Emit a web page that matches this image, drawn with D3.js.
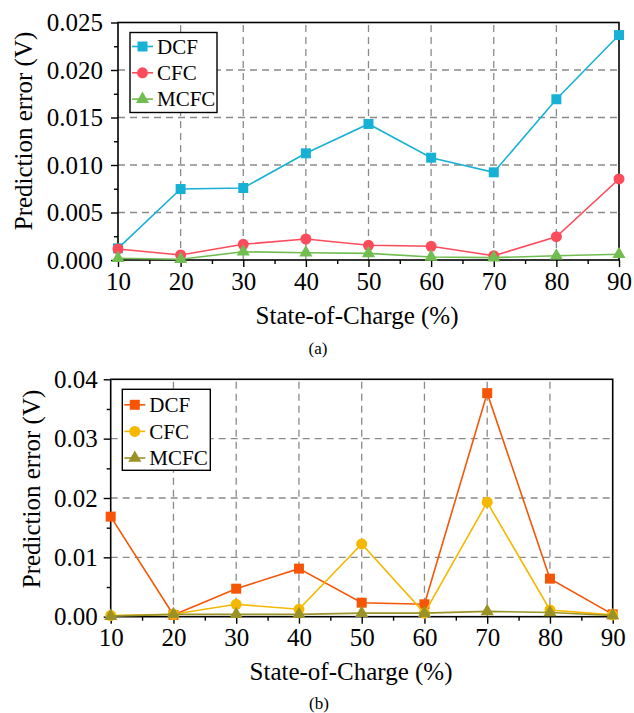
<!DOCTYPE html>
<html>
<head>
<meta charset="utf-8">
<script src="https://cdn.jsdelivr.net/npm/d3@7"></script>
<style>
  html, body { margin: 0; padding: 0; background: #ffffff; }
  svg { display: block; }
  svg text { font-family: "Liberation Serif", "DejaVu Serif", serif !important; }
</style>
</head>
<body>
<svg id="chart" width="634" height="713"></svg>
<script>
// State-of-Charge points (%)
const soc = [10, 20, 30, 40, 50, 60, 70, 80, 90];
const seriesNames = ["DCF", "CFC", "MCFC"];

// Panel (a) prediction errors (V)
const dcfA  = [0.00123, 0.00747, 0.00758, 0.01123, 0.01432, 0.01077, 0.00923, 0.01692, 0.02368];
const cfcA  = [0.00116, 0.00053, 0.00165, 0.00221, 0.00155, 0.00144, 0.00045, 0.00245, 0.00853];
const mcfcA = [0.00018, 0.00008, 0.00087, 0.00077, 0.00070, 0.00032, 0.00025, 0.00045, 0.00060];

// Panel (b) prediction errors (V)
const dcfB  = [0.01686, 0.00030, 0.00472, 0.00810, 0.00236, 0.00209, 0.03767, 0.00641, 0.00040];
const cfcB  = [0.00020, 0.00040, 0.00209, 0.00125, 0.01226, 0.00060, 0.01929, 0.00113, 0.00030];
const mcfcB = [0.00010, 0.00040, 0.00040, 0.00040, 0.00060, 0.00060, 0.00090, 0.00070, 0.00020];

// Tick values
const xTicks = [10, 20, 30, 40, 50, 60, 70, 80, 90];
const yTicksA = [0, 0.005, 0.010, 0.015, 0.020, 0.025];
const yTicksB = [0, 0.01, 0.02, 0.03, 0.04];

const FONT = "Liberation Serif, DejaVu Serif, serif";
const svg = d3.select("#chart");

function drawPanel(cfg) {
  const g = svg.append("g");
  const x = d3.scaleLinear().domain([10, 90]).range([cfg.left, cfg.right]);
  const y = d3.scaleLinear().domain([0, cfg.yMax]).range([cfg.bottom, cfg.top]);

  // dashed grid
  const grid = g.append("g")
    .attr("stroke", "#8a8a8a").attr("stroke-width", 1.3)
    .attr("stroke-dasharray", "7,5").attr("fill", "none");
  xTicks.slice(1, -1).forEach(v => {
    grid.append("line").attr("x1", x(v)).attr("x2", x(v))
      .attr("y1", cfg.bottom).attr("y2", cfg.top);
  });
  cfg.yTicks.slice(1, -1).forEach(v => {
    grid.append("line").attr("x1", cfg.left).attr("x2", cfg.right)
      .attr("y1", y(v)).attr("y2", y(v));
  });

  // minor ticks
  const xMinor = d3.range(15, 90, 10);
  const yStep = cfg.yTicks[1] - cfg.yTicks[0];
  const yMinor = d3.range(yStep / 2, cfg.yMax, yStep);

  const xAxis = d3.axisBottom(x).tickValues(xTicks).tickFormat(d3.format("d"))
    .tickSize(7).tickPadding(5);
  const xAxisMinor = d3.axisBottom(x).tickValues(xMinor).tickFormat("").tickSize(4);
  const yAxis = d3.axisLeft(y).tickValues(cfg.yTicks).tickFormat(d3.format(cfg.yFmt))
    .tickSize(7).tickPadding(cfg.yPad);
  const yAxisMinor = d3.axisLeft(y).tickValues(yMinor).tickFormat("").tickSize(4);

  [
    g.append("g").attr("transform", `translate(0,${cfg.bottom})`).call(xAxis),
    g.append("g").attr("transform", `translate(0,${cfg.bottom})`).call(xAxisMinor),
    g.append("g").attr("transform", `translate(${cfg.left},0)`).call(yAxis),
    g.append("g").attr("transform", `translate(${cfg.left},0)`).call(yAxisMinor)
  ].forEach(a => {
    a.attr("font-family", FONT).attr("font-size", 25);
    a.select(".domain").remove();
    a.selectAll(".tick line").attr("stroke", "#000").attr("stroke-width", 1.4);
    a.selectAll(".tick text").attr("fill", "#000").attr("font-family", FONT);
  });

  // frame
  g.append("rect").attr("x", cfg.left).attr("y", cfg.top)
    .attr("width", cfg.right - cfg.left).attr("height", cfg.bottom - cfg.top)
    .attr("fill", "none").attr("stroke", "#000").attr("stroke-width", 1.6);

  // series
  const line = d3.line().x((d, i) => x(soc[i])).y(d => y(d));
  cfg.series.forEach((vals, k) => {
    const col = cfg.colors[k];
    g.append("path").datum(vals).attr("d", line)
      .attr("fill", "none").attr("stroke", col).attr("stroke-width", 1.6);
    const sym = d3.symbol().type([d3.symbolSquare, d3.symbolCircle, d3.symbolTriangle][k])
      .size([100, 95, 75][k]);
    g.selectAll(null).data(vals).enter().append("path")
      .attr("d", sym)
      .attr("transform", (d, i) => `translate(${x(soc[i])},${y(d)})`)
      .attr("fill", col);
  });

  // legend
  const lg = g.append("g");
  lg.append("rect").attr("x", cfg.legend.x).attr("y", cfg.legend.y)
    .attr("width", cfg.legend.w).attr("height", cfg.legend.h)
    .attr("fill", "#fff").attr("stroke", "#000").attr("stroke-width", 1.4);
  seriesNames.forEach((name, k) => {
    const ly = cfg.legend.y + cfg.legend.first + k * cfg.legend.gap;
    const lx0 = cfg.legend.x + 2, lx1 = lx0 + 21;
    lg.append("line").attr("x1", lx0).attr("x2", lx1).attr("y1", ly).attr("y2", ly)
      .attr("stroke", cfg.colors[k]).attr("stroke-width", 1.6);
    const sym = d3.symbol().type([d3.symbolSquare, d3.symbolCircle, d3.symbolTriangle][k])
      .size([100, 95, 75][k]);
    lg.append("path").attr("d", sym)
      .attr("transform", `translate(${(lx0 + lx1) / 2},${ly})`)
      .attr("fill", cfg.colors[k]);
    lg.append("text").attr("x", lx1 + 4).attr("y", ly).attr("dy", "0.35em")
      .attr("font-family", FONT).attr("font-size", 21).attr("fill", "#000").text(name);
  });

  // axis titles
  g.append("text")
    .attr("transform", `translate(${cfg.yTitleX},${cfg.yTitleY}) rotate(-90)`)
    .attr("text-anchor", "middle").attr("dy", "0.35em")
    .attr("font-family", FONT).attr("font-size", 25).attr("fill", "#000")
    .text("Prediction error (V)");
  g.append("text").attr("x", cfg.xTitleX).attr("y", cfg.xTitleY)
    .attr("text-anchor", "middle").attr("dy", "0.35em")
    .attr("font-family", FONT).attr("font-size", 25).attr("fill", "#000")
    .text("State-of-Charge (%)");
  g.append("text").attr("x", cfg.capX).attr("y", cfg.capY)
    .attr("text-anchor", "middle").attr("dy", "0.35em")
    .attr("font-family", FONT).attr("font-size", 17).attr("fill", "#000")
    .text(cfg.caption);
}

drawPanel({
  left: 118, right: 619, top: 22.5, bottom: 260,
  yMax: 0.025, yTicks: yTicksA, yFmt: ".3f", yPad: 8,
  series: [dcfA, cfcA, mcfcA],
  colors: ["#17b1d6", "#fc4c5c", "#71bd50"],
  legend: { x: 130, y: 32.5, w: 87, h: 80, first: 14, gap: 26.3 },
  yTitleX: 23, yTitleY: 131,
  xTitleX: 357, xTitleY: 315,
  capX: 318, capY: 348, caption: "(a)"
});

drawPanel({
  left: 110.7, right: 612.7, top: 379.3, bottom: 616.7,
  yMax: 0.04, yTicks: yTicksB, yFmt: ".2f", yPad: 6,
  series: [dcfB, cfcB, mcfcB],
  colors: ["#f65505", "#f4b800", "#9a9226"],
  legend: { x: 122.3, y: 389.3, w: 88, h: 81, first: 15.5, gap: 26.6 },
  yTitleX: 31, yTitleY: 489,
  xTitleX: 351, xTitleY: 671.7,
  capX: 319, capY: 703, caption: "(b)"
});
</script>
</body>
</html>
